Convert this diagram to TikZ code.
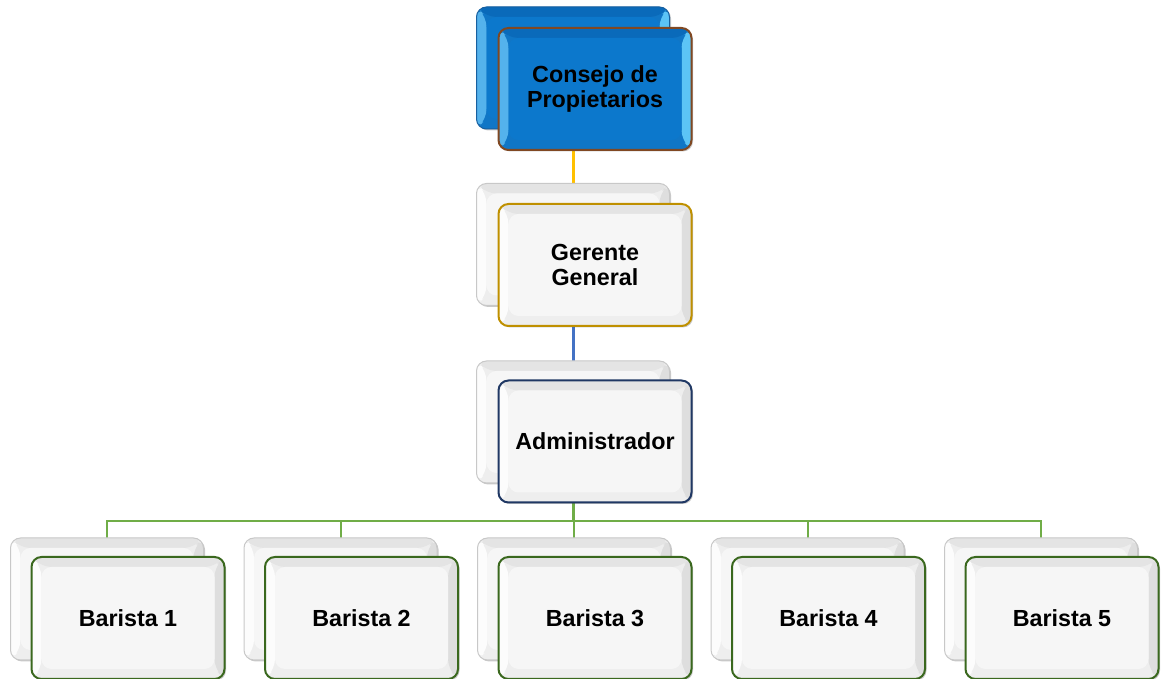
\documentclass[tikz,border=0pt]{standalone}
\usepackage{fontspec}
\setmainfont{Liberation Sans}
\usetikzlibrary{calc,shadows}
\pgfdeclarelayer{bg}
\pgfsetlayers{bg,main}

\definecolor{bluefc}{RGB}{12,120,204}
\definecolor{bluetop}{RGB}{10,106,186}
\definecolor{bluebot}{RGB}{16,118,198}
\definecolor{blueleft}{RGB}{84,178,236}
\definecolor{blueright}{RGB}{92,196,246}
\definecolor{brownln}{RGB}{128,72,34}
\definecolor{blueback}{RGB}{24,96,160}
\definecolor{goldln}{RGB}{191,144,0}
\definecolor{navyln}{RGB}{32,56,100}
\definecolor{greenln}{RGB}{58,104,30}
\definecolor{yellowcn}{RGB}{255,192,0}
\definecolor{bluecn}{RGB}{68,114,196}
\definecolor{greencn}{RGB}{112,173,71}
\definecolor{wface}{RGB}{246,246,246}
\definecolor{wtop}{RGB}{228,228,228}
\definecolor{wbot}{RGB}{238,238,238}
\definecolor{wleft}{RGB}{252,252,252}
\definecolor{wright}{RGB}{222,222,222}
\definecolor{grayln}{RGB}{200,200,200}

\tikzset{
  % rounded card with a bevelled rim: top, bottom, left, right, face colours
  bevel/.style n args={5}{
    path picture={
      \def\bb{path picture bounding box}
      \fill[#2] (\bb.south west) rectangle (\bb.north east);
      \fill[#1] (\bb.north west) -- (\bb.north east)
        -- ([shift={(-10pt,-10pt)}]\bb.north east) -- ([shift={(10pt,-10pt)}]\bb.north west) -- cycle;
      \fill[#3] (\bb.north west) -- (\bb.south west)
        -- ([shift={(10pt,10pt)}]\bb.south west) -- ([shift={(10pt,-10pt)}]\bb.north west) -- cycle;
      \fill[#4] (\bb.north east) -- (\bb.south east)
        -- ([shift={(-10pt,10pt)}]\bb.south east) -- ([shift={(-10pt,-10pt)}]\bb.north east) -- cycle;
      \fill[#5] ([shift={(10pt,10pt)}]\bb.south west) rectangle ([shift={(-10pt,-10pt)}]\bb.north east);
    }},
  card/.style={rectangle, rounded corners=10pt, minimum width=193pt, minimum height=122pt,
    inner sep=0pt, align=center, font=\bfseries\fontsize{23.3}{25.5}\selectfont,
    drop shadow={shadow xshift=1.5pt, shadow yshift=-1.5pt, opacity=0.3, fill=black!70}},
  bluecard/.style={card, bevel={bluetop}{bluebot}{blueleft}{blueright}{bluefc}},
  whitecard/.style={card, bevel={wtop}{wbot}{wleft}{wright}{wface}},
  link/.style={line width=3pt},
}

\begin{document}
\begin{tikzpicture}[x=1pt,y=1pt]
  \useasboundingbox (0,0) rectangle (1165,679);

  % Consejo de Propietarios
  \node[bluecard, draw=blueback, line width=1pt] (cpb) at (573,611) {};
  \node[bluecard, draw=brownln, line width=2pt] (cp) at (595,590) {Consejo de\\Propietarios};

  % Gerente General
  \node[whitecard, draw=grayln, line width=1pt] (ggb) at (573,434.5) {};
  \node[whitecard, draw=goldln, line width=2pt] (gg) at (595,414) {Gerente\\General};

  % Administrador
  \node[whitecard, draw=grayln, line width=1pt] (adb) at (573,257) {};
  \node[whitecard, draw=navyln, line width=2pt] (ad) at (595,237.5) {Administrador};

  % Baristas
  \foreach \i in {1,...,5}{
    \pgfmathsetmacro{\bx}{107+233.5*(\i-1)}
    \node[whitecard, draw=grayln, line width=1pt] (b\i b) at (\bx,80) {};
    \node[whitecard, draw=greenln, line width=2pt] (b\i) at (\bx+21,61) {Barista \i};
  }

  \coordinate (bus) at (573,158);

  \begin{pgfonlayer}{bg}
    \draw[link, yellowcn] (cpb.center) -- (ggb.center);
    \draw[link, bluecn] (ggb.center) -- (adb.center);
    \draw[link, greencn] (adb.center) -- (bus);
    \foreach \i in {1,...,5}{
      \draw[greencn, line width=2pt] (bus) -| (b\i b.center);
    }
  \end{pgfonlayer}
\end{tikzpicture}
\end{document}
